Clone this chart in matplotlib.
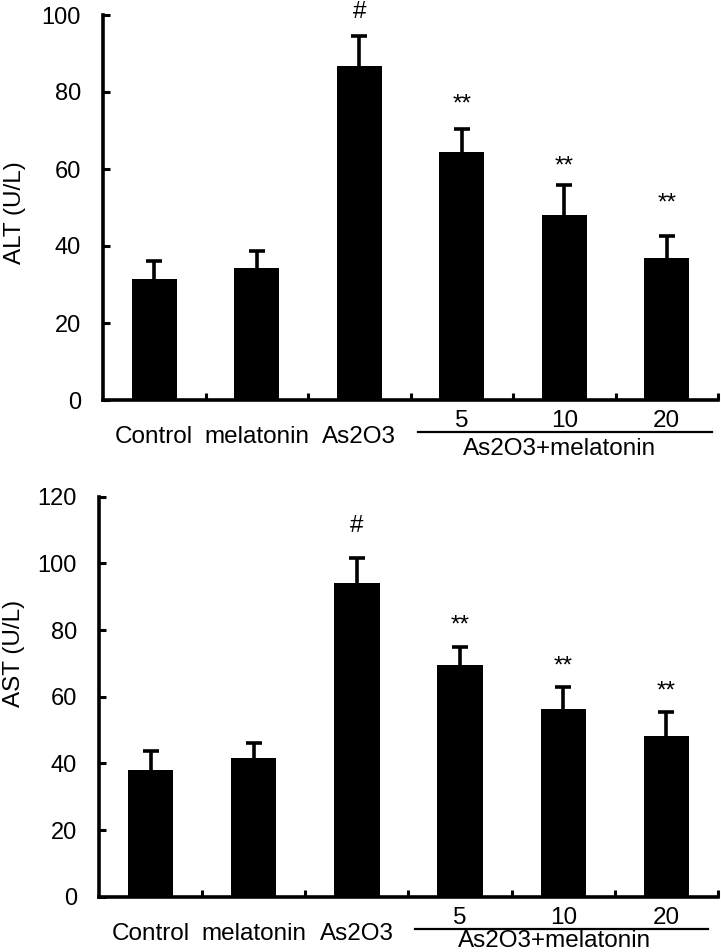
# ============================================
# 1. IMPORTS
# ============================================
import numpy as np
import matplotlib
matplotlib.use("Agg")
import matplotlib.pyplot as plt

plt.rcParams["font.family"] = ["Liberation Sans", "DejaVu Sans"]

# ============================================
# 2. DATA
# ============================================
groups = ["Control", "melatonin", "As2O3", "5", "10", "20"]
group_label = "As2O3+melatonin"

alt_mean = [31.4, 34.3, 86.8, 64.5, 48.0, 37.0]
alt_sd = [4.8, 4.5, 7.8, 5.8, 7.8, 5.5]
alt_marks = ["", "", "#", "**", "**", "**"]
alt_mark_y = [0, 0, 99.1, 75.1, 59.2, 49.6]

ast_mean = [38.0, 41.5, 94.0, 69.5, 56.2, 48.2]
ast_sd = [5.7, 4.5, 7.7, 5.5, 6.6, 7.3]
ast_marks = ["", "", "#", "**", "**", "**"]
ast_mark_y = [0, 0, 109.4, 79.7, 67.4, 59.9]

# ============================================
# 3. FIGURE
# ============================================
W, H = 721, 952
fig = plt.figure(figsize=(W / 100, H / 100), dpi=100)

ax1 = fig.add_axes([103 / W, 1 - 400 / H, 615 / W, 385 / H])
ax2 = fig.add_axes([99 / W, 1 - 896.7 / H, 619 / W, 400 / H])

FS = 17.5


def draw_panel(ax, means, sds, marks, mark_y, ymax, ylabel, ylab_xy,
               line_span, text_x, text_off):
    x = np.arange(len(groups))
    ax.bar(x, means, width=0.44, color="black", zorder=3)
    eb = ax.errorbar(x, means, yerr=[np.zeros(len(sds)), sds], fmt="none",
                     ecolor="black", elinewidth=2.6, capsize=6, capthick=2.6,
                     zorder=2)
    eb[1][0].set_visible(False)  # no lower cap

    ax.set_xlim(-0.5, len(groups) - 0.5)
    ax.set_ylim(0, ymax)
    ax.set_yticks(np.arange(0, ymax + 1, 20))

    for s in ["top", "right"]:
        ax.spines[s].set_visible(False)
    for s in ["left", "bottom"]:
        ax.spines[s].set_linewidth(2.6)

    ax.set_xticks([])
    ax.set_xticks(np.arange(len(groups)) + 0.5, minor=True)
    ax.tick_params(axis="x", which="minor", direction="in", length=5, width=2.2)
    ax.tick_params(axis="y", direction="in", length=5, width=2.2, pad=16,
                   labelsize=17)

    # category labels under the axis
    for i, g in enumerate(groups):
        off = -27 if g.isdigit() else -43
        ax.annotate(g, xy=(i, 0), xycoords=("data", "axes fraction"),
                    xytext=(0, off), textcoords="offset pixels",
                    ha="center", va="baseline", fontsize=FS)

    # group line and label
    h_px = ax.get_position().height * H
    ly = -32 / h_px
    ax.plot(line_span, [ly, ly], color="black", lw=1.6, clip_on=False,
            transform=ax.get_xaxis_transform())
    ax.annotate(group_label, xy=(text_x, 0),
                xycoords=("data", "axes fraction"),
                xytext=(0, text_off), textcoords="offset pixels",
                ha="center", va="baseline", fontsize=FS, annotation_clip=False)

    # significance marks
    for i, (m, y) in enumerate(zip(marks, mark_y)):
        if m:
            ax.text(i, y, m, ha="center", va="baseline", fontsize=FS,
                    clip_on=False)

    fig.text(ylab_xy[0] / W, 1 - ylab_xy[1] / H, ylabel, rotation=90,
             ha="center", va="center", fontsize=FS)


draw_panel(ax1, alt_mean, alt_sd, alt_marks, alt_mark_y, 100, "ALT (U/L)",
           (15, 213), (2.57, 5.44), 3.95, -55)
draw_panel(ax2, ast_mean, ast_sd, ast_marks, ast_mark_y, 120, "AST (U/L)",
           (14, 653), (2.56, 5.40), 3.92, -50)

plt.savefig("out.png", dpi=100)
